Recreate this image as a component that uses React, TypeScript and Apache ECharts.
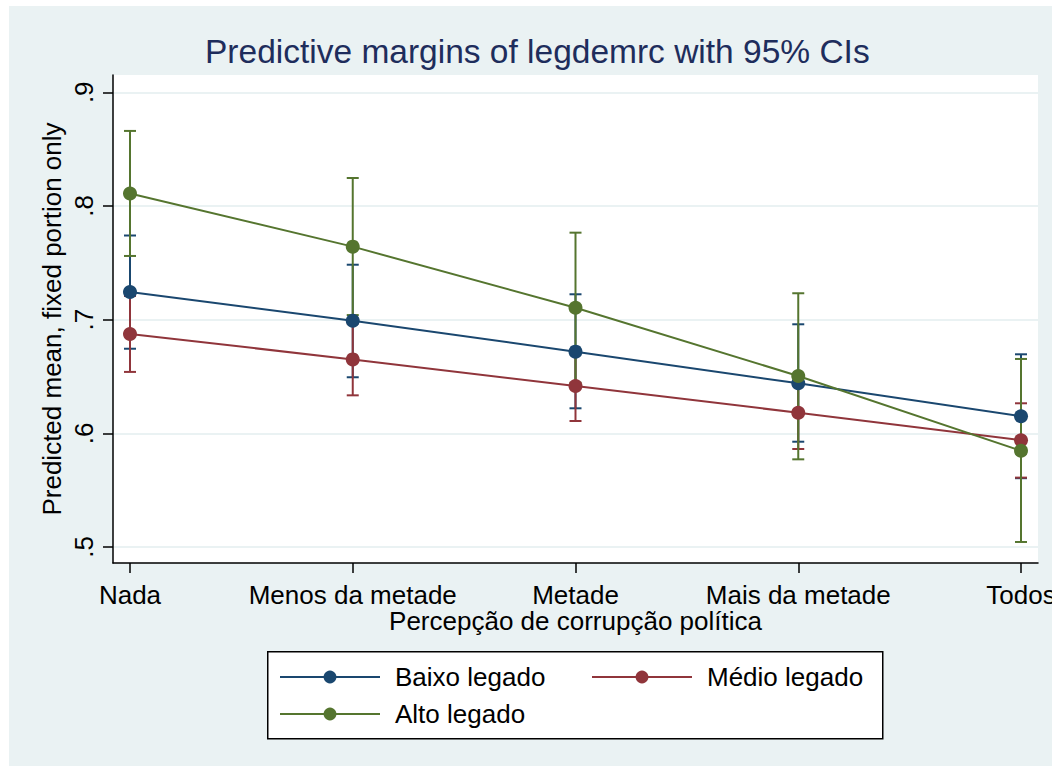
import React, { useEffect, useRef } from 'react';
import * as echarts from 'echarts';

const categories = ['Nada', 'Menos da metade', 'Metade', 'Mais da metade', 'Todos'];
const seriesNames = ['Baixo legado', 'Médio legado', 'Alto legado'];

const baixoMean = [0.7243, 0.699, 0.6718, 0.644, 0.615];
const baixoLow = [0.6744, 0.6493, 0.622, 0.5926, 0.5605];
const baixoHigh = [0.774, 0.7483, 0.7223, 0.6959, 0.6695];

const medioMean = [0.6874, 0.665, 0.6416, 0.6181, 0.5939];
const medioLow = [0.654, 0.6334, 0.6108, 0.5862, 0.561];
const medioHigh = [0.7208, 0.6966, 0.6724, 0.65, 0.6264];

const altoMean = [0.811, 0.7642, 0.7105, 0.6504, 0.5847];
const altoLow = [0.756, 0.704, 0.6445, 0.5771, 0.5044];
const altoHigh = [0.866, 0.8246, 0.7765, 0.7232, 0.6654];

const yTicks = [0.5, 0.6, 0.7, 0.8, 0.9];
const xTicks = [0, 1, 2, 3, 4];

const colors = ['#1a476f', '#90353b', '#55752f'];
const FONT = '"Liberation Sans", Arial, sans-serif';

export default function App() {
  const ref = useRef<HTMLDivElement>(null);

  useEffect(() => {
    if (!ref.current) return;
    const chart = echarts.init(ref.current, undefined, { renderer: 'svg' });

    const means = [baixoMean, medioMean, altoMean];
    const lows = [baixoLow, medioLow, altoLow];
    const highs = [baixoHigh, medioHigh, altoHigh];

    const errSeries = seriesNames.map((name, s) => ({
      type: 'custom',
      name: name + ' CI',
      data: categories.map((_, i) => [i, lows[s][i], highs[s][i]]),
      encode: { x: 0, y: [1, 2] },
      silent: true,
      renderItem: (params: any, api: any) => {
        const x = api.value(0);
        const pLo = api.coord([x, api.value(1)]);
        const pHi = api.coord([x, api.value(2)]);
        const hw = 6;
        const style = { stroke: colors[s], lineWidth: 2, fill: 'none' };
        return {
          type: 'group',
          children: [
            { type: 'line', shape: { x1: pLo[0], y1: pLo[1], x2: pHi[0], y2: pHi[1] }, style },
            { type: 'line', shape: { x1: pLo[0] - hw, y1: pLo[1], x2: pLo[0] + hw, y2: pLo[1] }, style },
            { type: 'line', shape: { x1: pHi[0] - hw, y1: pHi[1], x2: pHi[0] + hw, y2: pHi[1] }, style },
          ],
        };
      },
    }));

    const lineSeries = seriesNames.map((name, s) => ({
      type: 'line',
      name,
      data: categories.map((_, i) => [i, means[s][i]]),
      symbol: 'circle',
      symbolSize: 14,
      color: colors[s],
      lineStyle: { color: colors[s], width: 2 },
      itemStyle: { color: colors[s] },
    }));

    const legendBase = {
      orient: 'horizontal',
      padding: 0,
      itemWidth: 100,
      itemHeight: 16,
      itemGap: 0,
      selectedMode: false,
      textStyle: { fontFamily: FONT, fontSize: 26, color: '#000', padding: [0, 0, 0, 10], lineHeight: 26 },
    };

    chart.setOption({
      animation: false,
      backgroundColor: '#eaf2f3',
      textStyle: { fontFamily: FONT },
      title: {
        text: 'Predictive margins of legdemrc with 95% CIs',
        left: 196,
        top: 28,
        padding: 0,
        textStyle: { fontFamily: FONT, fontSize: 33.5, fontWeight: 'normal', color: '#1e2d5c' },
      },
      grid: {
        left: 104,
        top: 69,
        width: 925,
        height: 488,
        outerBoundsMode: 'none',
        containLabel: false,
        show: true,
        backgroundColor: '#ffffff',
        borderWidth: 0,
      },
      xAxis: {
        type: 'value',
        min: -0.0763,
        max: 4.0763,
        name: 'Percepção de corrupção política',
        nameLocation: 'middle',
        nameGap: 48,
        nameMoveOverlap: false,
        nameTextStyle: { fontFamily: FONT, fontSize: 26, color: '#000', lineHeight: 20 },
        axisLine: { show: true, onZero: false, lineStyle: { color: '#000', width: 1.5 } },
        axisTick: { show: true, customValues: xTicks, length: 10, lineStyle: { color: '#000', width: 1.5 } },
        axisLabel: {
          customValues: xTicks,
          margin: 22,
          lineHeight: 20,
          fontFamily: FONT,
          fontSize: 26,
          color: '#000',
          hideOverlap: false,
          formatter: (v: number) => categories[Math.round(v)] ?? '',
        },
        splitLine: { show: false },
      },
      yAxis: {
        type: 'value',
        min: 0.4859,
        max: 0.9152,
        name: 'Predicted mean, fixed portion only',
        nameLocation: 'middle',
        nameGap: 48,
        nameMoveOverlap: false,
        nameTextStyle: { fontFamily: FONT, fontSize: 26, color: '#000' },
        axisLine: { show: true, onZero: false, lineStyle: { color: '#000', width: 1.5 } },
        axisTick: { show: true, customValues: yTicks, length: 10, lineStyle: { color: '#000', width: 1.5 } },
        axisLabel: {
          customValues: yTicks,
          rotate: 90,
          margin: 16,
          fontFamily: FONT,
          fontSize: 26,
          color: '#000',
          formatter: (v: number) => v.toFixed(1).replace(/^0/, ''),
        },
        splitLine: { show: true, lineStyle: { color: '#eaf2f3', width: 2 } },
      },
      legend: [
        { ...legendBase, data: [seriesNames[0]], left: 270, top: 658 },
        { ...legendBase, data: [seriesNames[1]], left: 582, top: 658 },
        { ...legendBase, data: [seriesNames[2]], left: 270, top: 695 },
      ],
      graphic: [
        {
          type: 'rect',
          left: 258,
          top: 645,
          shape: { x: 0, y: 0, width: 615, height: 87 },
          style: { fill: '#ffffff', stroke: '#000', lineWidth: 1.5 },
          z: -1,
          silent: true,
        },
      ],
      series: [...errSeries, ...lineSeries],
    });

    return () => chart.dispose();
  }, []);

  return (
    <div
      ref={ref}
      style={{ position: 'absolute', left: 9, top: 6, width: 1043, height: 760 }}
    />
  );
}
